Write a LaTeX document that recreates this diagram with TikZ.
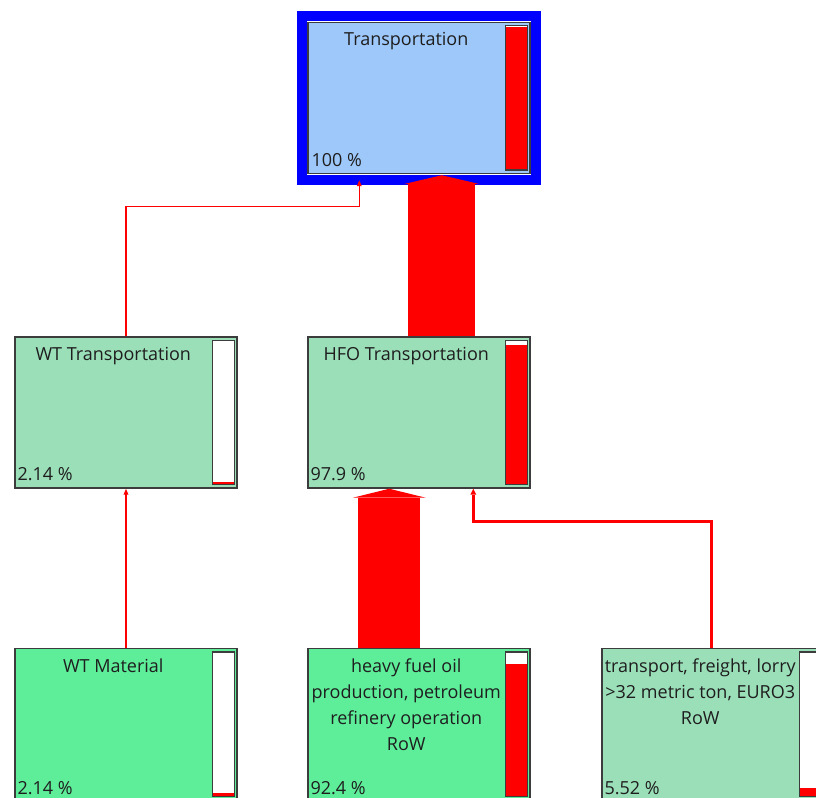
\documentclass[tikz,border=0pt]{standalone}
\usepackage{fontspec}
\setmainfont{Open Sans}
\usetikzlibrary{arrows.meta,calc}

\definecolor{boxblue}{RGB}{158,200,250}
\definecolor{boxmint}{RGB}{155,223,185}
\definecolor{boxgreen}{RGB}{94,238,154}
\definecolor{boxline}{RGB}{60,60,60}
\definecolor{txt}{RGB}{30,30,30}

\tikzset{
  procbox/.style={draw=boxline, line width=1.1pt, rectangle, inner sep=0pt,
    minimum width=166.5pt, minimum height=113.25pt},
  boxtitle/.style={text=txt, font=\fontsize{13.5}{19.5}\selectfont, align=center,
    inner sep=0pt, anchor=north},
  boxpct/.style={text=txt, font=\fontsize{13.5}{19.5}\selectfont, inner sep=0pt,
    anchor=base west},
  thinflow/.style={draw=red, line width=0.9pt,
    -{Triangle[length=4.5pt 0 0, width=3.5pt 0 0]}},
  midflow/.style={draw=red, line width=2.3pt,
    -{Triangle[length=4.5pt 0 0, width=4.5pt 0 0, line width=0pt 0 0]}},
}

\begin{document}
\begin{tikzpicture}[x=0.75pt, y=-0.75pt]
    \useasboundingbox (0,0) rectangle (816,798);
    \clip (0,0) rectangle (816,798);

    % process boxes
    \node[procbox, fill=boxblue] (tr) at (419,98) {};
    \node[procbox, fill=boxmint] (wtt) at (126,412.5) {};
    \node[procbox, fill=boxmint] (hfo) at (419,412.5) {};
    \node[procbox, fill=boxgreen] (wtm) at (126,724) {};
    \node[procbox, fill=boxgreen] (hfp) at (419,724) {};
    \node[procbox, fill=boxmint] (tf) at (713,724) {};

    \draw[blue, line width=7.5pt] ($(tr.south west)+(-5.6,5.6)$) rectangle ($(tr.north east)+(5.6,-5.6)$);

    % result bars
    \foreach \b/\f in {tr/1, wtt/0.0214, hfo/0.979, wtm/0.0214, hfp/0.924, tf/0.0552} {
        \fill[white] ($(\b.north east)+(-25,4)$) rectangle ($(\b.south east)+(-3,-4)$);
        \fill[red] ($(\b.south east)+(-25,-4)$) rectangle ($(\b.south east)+(-3,{-4-143*\f})$);
        \draw[boxline, line width=1.1pt] ($(\b.north east)+(-25,4)$) rectangle ($(\b.south east)+(-3,-4)$);
    }

    % labels
    \node[boxtitle] (tr-t) at ($(tr.north west)+(99,10)$) {Transportation};
    \node[boxpct] (tr-p) at ($(tr.south west)+(4,-8)$) {100 \%};
    \node[boxtitle] (wtt-t) at ($(wtt.north west)+(99,10.5)$) {WT Transportation};
    \node[boxpct] (wtt-p) at ($(wtt.south west)+(3,-8)$) {2.14 \%};
    \node[boxtitle] (hfo-t) at ($(hfo.north west)+(99,10.5)$) {HFO Transportation};
    \node[boxpct] (hfo-p) at ($(hfo.south west)+(3,-8)$) {97.9 \%};
    \node[boxtitle] (wtm-t) at ($(wtm.north west)+(99,10.5)$) {WT Material};
    \node[boxpct] (wtm-p) at ($(wtm.south west)+(3,-6)$) {2.14 \%};
    \node[boxtitle] (hfp-t) at ($(hfp.north west)+(99,10.5)$) {heavy fuel oil\\production, petroleum\\refinery operation\\RoW};
    \node[boxpct] (hfp-p) at ($(hfp.south west)+(3,-6)$) {92.4 \%};
    \node[boxtitle] (tf-t) at ($(tf.north west)+(99,10.5)$) {transport, freight, lorry\\>32 metric ton, EURO3\\RoW};
    \node[boxpct] (tf-p) at ($(tf.south west)+(3,-6)$) {5.52 \%};

    % flows
    \draw[red, line width=50.25pt, -{Triangle[length=6.75pt 0 0, width=57.75pt 0 0, line width=0pt 0 0]}]
        ($(hfo.north west)+(134.5,0)$) -- ($(tr.south west)+(134.5,1)$);
    \draw[red, line width=46.5pt, -{Triangle[length=6.75pt 0 0, width=54.75pt 0 0, line width=0pt 0 0]}]
        ($(hfp.north west)+(82,0)$) -- ($(hfo.south west)+(82,0)$);
    \draw[thinflow] (wtt.north) -- ++(0,-130) -| ($(tr.south west)+(52,6)$);
    \draw[thinflow] (wtm.north) -- (wtt.south);
    \draw[midflow] ($(tf.north west)+(110,0)$) -- ++(0,-126) -| ($(hfo.south west)+(166,0)$);
\end{tikzpicture}
\end{document}
